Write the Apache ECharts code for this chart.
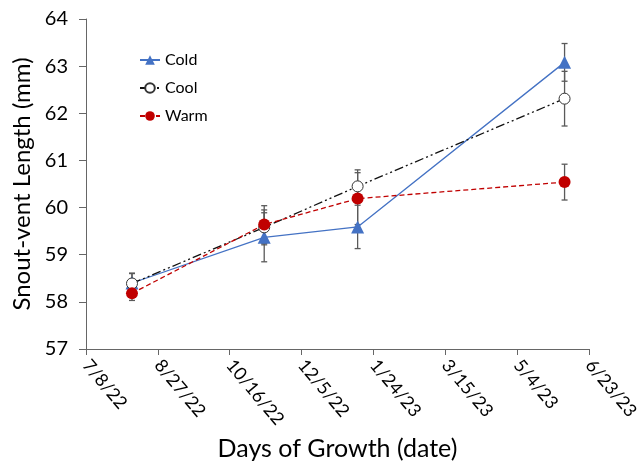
<!DOCTYPE html>
<html><head><meta charset="utf-8">
<script src="https://cdn.jsdelivr.net/npm/echarts@6/dist/echarts.min.js"></script>
<style>html,body{margin:0;padding:0;background:#fff}#c{width:642px;height:466px}</style>
</head><body><div id="c"></div>
<script>
// Excel serial dates (44750 = 7/8/22)
const dates = [44782, 44874, 44939, 45083];
const coldVals = [58.40, 59.37, 59.59, 63.08];
const coldErr  = [0.20, 0.52, 0.46, 0.40];
const coolVals = [58.39, 59.58, 60.45, 62.31];
const coolErr  = [0.22, 0.37, 0.35, 0.58];
const warmVals = [58.18, 59.64, 60.19, 60.54];
const warmErr  = [0.15, 0.40, 0.55, 0.38];
const xMin = 44750, xMax = 45100, xStep = 50;
const yMin = 57, yMax = 64, yStep = 1;

function fmtDate(serial){
  const d = new Date(Date.UTC(1899,11,30) + serial*86400000);
  return (d.getUTCMonth()+1) + '/' + d.getUTCDate() + '/' + String(d.getUTCFullYear()).slice(2);
}
function pts(v){ return dates.map((x,i)=>[x, v[i]]); }
function errData(v,e){ return dates.map((x,i)=>[x, v[i]-e[i], v[i]+e[i]]); }

const errColor = '#5a5a5a';
function errSeries(v,e){
  return {
    type:'custom', silent:true, z:1,
    data: errData(v,e),
    renderItem: function(params, api){
      const lo = api.coord([api.value(0), api.value(1)]);
      const hi = api.coord([api.value(0), api.value(2)]);
      const w = 3;
      const st = {stroke: errColor, lineWidth: 1.3};
      return {type:'group', children:[
        {type:'line', shape:{x1:lo[0],y1:lo[1],x2:hi[0],y2:hi[1]}, style:st},
        {type:'line', shape:{x1:lo[0]-w,y1:lo[1],x2:lo[0]+w,y2:lo[1]}, style:st},
        {type:'line', shape:{x1:hi[0]-w,y1:hi[1],x2:hi[0]+w,y2:hi[1]}, style:st}
      ]};
    }
  };
}

const font = 'Lato, "Open Sans", sans-serif';
const chart = echarts.init(document.getElementById('c'), null, {renderer:'canvas'});
chart.setOption({
  animation:false,
  backgroundColor:'#fff',
  textStyle:{fontFamily:font},
  grid:{left:86, right:53, top:19, bottom:114},
  legend:{
    orient:'vertical', left:134, top:47, itemGap:12, itemWidth:20, itemHeight:12,
    textStyle:{fontSize:16, color:'#000', fontFamily:font},
    data:['Cold','Cool','Warm']
  },
  xAxis:{
    type:'value', min:xMin, max:xMax, interval:xStep,
    name:'Days of Growth (date)', nameLocation:'middle', nameGap:87,
    nameTextStyle:{fontSize:25, color:'#000', fontFamily:font},
    axisLine:{lineStyle:{color:'#666', width:1}},
    axisTick:{show:true, inside:false, length:6, lineStyle:{color:'#666'}},
    axisLabel:{rotate:-50, fontSize:18, color:'#000', margin:13, formatter:fmtDate, fontFamily:font},
    splitLine:{show:false}
  },
  yAxis:{
    type:'value', min:yMin, max:yMax, interval:yStep,
    name:'Snout-vent Length (mm)', nameLocation:'middle', nameGap:52,
    nameTextStyle:{fontSize:24, color:'#000', fontFamily:font},
    axisLine:{show:true, lineStyle:{color:'#666', width:1}},
    axisTick:{show:true, inside:false, length:7, lineStyle:{color:'#666'}},
    axisLabel:{fontSize:20, color:'#000', margin:18, fontFamily:font},
    splitLine:{show:false}
  },
  series:[
    errSeries(coldVals, coldErr),
    errSeries(coolVals, coolErr),
    errSeries(warmVals, warmErr),
    {name:'Cold', type:'line', data:pts(coldVals), z:3,
     symbol:'triangle', symbolSize:13,
     itemStyle:{color:'#4472C4'},
     lineStyle:{color:'#4472C4', width:1.3, type:'solid'}},
    {name:'Cool', type:'line', data:pts(coolVals), z:4,
     symbol:'circle', symbolSize:11,
     itemStyle:{color:'#fff', borderColor:'#333', borderWidth:1},
     lineStyle:{color:'#111', width:1.3, type:[9,3,2,3,2,3]}},
    {name:'Warm', type:'line', data:pts(warmVals), z:5,
     symbol:'circle', symbolSize:12,
     itemStyle:{color:'#C00000'},
     lineStyle:{color:'#C00000', width:1.3, type:[5,3]}}
  ]
});
</script></body></html>
